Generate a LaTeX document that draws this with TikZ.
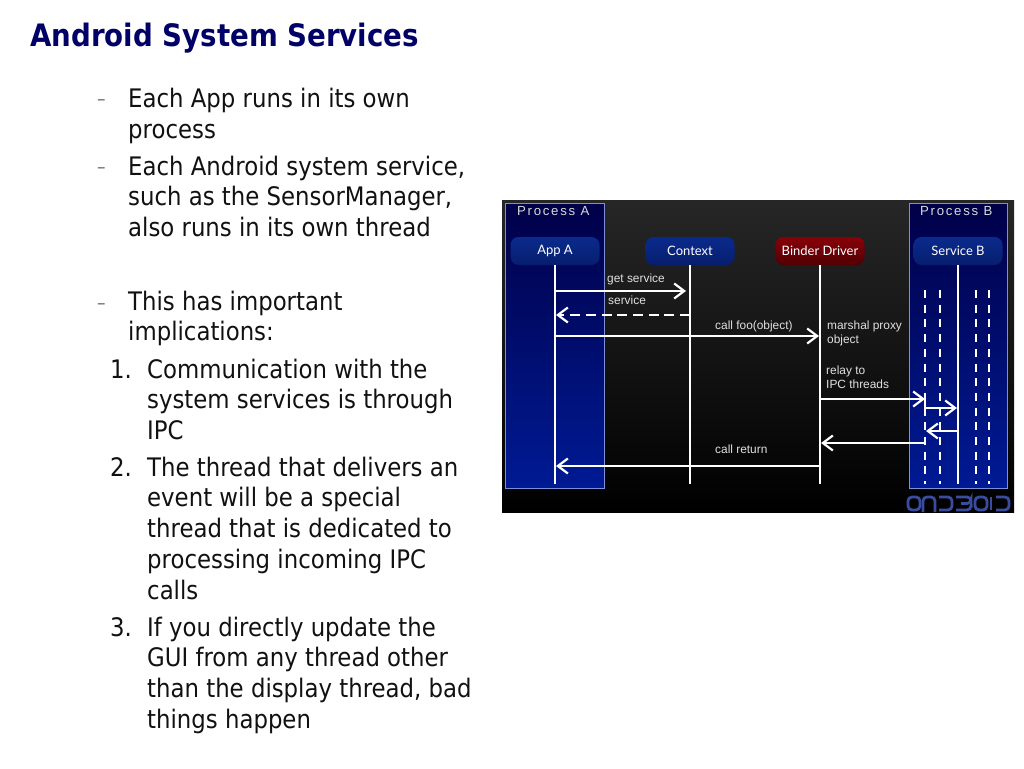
\documentclass[tikz,border=0pt]{standalone}
\usepackage{fontspec}
\usetikzlibrary{arrows.meta}
\setmainfont{DejaVu Sans}[FakeStretch=0.895]
\newfontfamily\labelfont{Liberation Sans}
\newfontfamily\procfont{Liberation Sans}[LetterSpace=13]
\newfontfamily\boxfont{Lato}
\definecolor{titleblue}{HTML}{000066}
\definecolor{bodytext}{HTML}{111111}
\definecolor{boxedge}{HTML}{7C90DA}
\definecolor{navytop}{HTML}{000048}
\definecolor{navybot}{HTML}{001A94}
\definecolor{actortop}{HTML}{0A2A8C}
\definecolor{actormid}{HTML}{0C36A4}
\definecolor{actorbot}{HTML}{071E6E}
\definecolor{redtop}{HTML}{8A0008}
\definecolor{redmid}{HTML}{AA0010}
\definecolor{redbot}{HTML}{500004}
\definecolor{logoblue}{HTML}{3A4C9E}
\newcommand{\firstline}{\rule{0pt}{20pt}}
\tikzset{
  x=1pt,y=-1pt,
  bodytextnode/.style={anchor=north west,inner sep=0pt,align=left,text=bodytext,font=\fontsize{25.5}{30.7}\selectfont},
  dashmark/.style={anchor=base west,inner sep=0pt,text=bodytext!60,font=\fontsize{19}{22}\selectfont},
  nummark/.style={anchor=base west,inner sep=0pt,text=bodytext,font=\fontsize{25.5}{30.7}\selectfont},
  actorblue/.style={rounded corners=8pt,minimum width=89pt,minimum height=28pt,inner sep=0pt,text=white,font=\boxfont\fontsize{13}{15}\selectfont,top color=actortop,middle color=actormid,bottom color=actorbot},
  actorred/.style={actorblue,top color=redtop,middle color=redmid,bottom color=redbot},
  proc/.style={draw=boxedge,line width=1pt,top color=navytop,bottom color=navybot},
  proclabel/.style={anchor=base west,inner sep=0pt,text=white!85!black,font=\procfont\fontsize{13.2}{15}\selectfont},
  msg/.style={anchor=base west,inner sep=0pt,align=left,text=white!88!black,font=\labelfont\fontsize{11.9}{13.4}\selectfont},
  lifeline/.style={white,line width=2pt},
  call/.style={white,line width=2pt,-{Straight Barb[length=10pt,width=15pt,line width=2.2pt]}},
  reply/.style={call,dash pattern=on 10pt off 5.7pt},
  thread/.style={white,line width=2.4pt,dash pattern=on 8pt off 6.7pt},
  logostroke/.style={logoblue,line width=2.8pt,rounded corners=4pt},
}
\begin{document}
\begin{tikzpicture}
\useasboundingbox (0,0) rectangle (1024,768);
\fill[white] (0,0) rectangle (1024,768);
\node[anchor=base west,inner sep=0pt,text=titleblue,font=\bfseries\fontsize{30.9}{36}\selectfont] (title) at (30,46) {Android System Services};

\node[dashmark] (d1) at (97,105) {–};
\node[bodytextnode] (t1) at (128,87.4) {\firstline Each App runs in its own\\process};
\node[dashmark] (d2) at (97,173) {–};
\node[bodytextnode] (t2) at (128,155) {\firstline Each Android system service,\\such as the SensorManager,\\also runs in its own thread};
\node[dashmark] (d3) at (97,309) {–};
\node[bodytextnode] (t3) at (128,290) {\firstline This has important\\implications:};
\node[nummark] (n1) at (110,378) {1.};
\node[bodytextnode] (t4) at (147,358) {\firstline Communication with the\\system services is through\\IPC};
\node[nummark] (n2) at (110,476) {2.};
\node[bodytextnode] (t5) at (147,456) {\firstline The thread that delivers an\\event will be a special\\thread that is dedicated to\\processing incoming IPC\\calls};
\node[nummark] (n3) at (110,636) {3.};
\node[bodytextnode] (t6) at (147,616) {\firstline If you directly update the\\GUI from any thread other\\than the display thread, bad\\things happen};

\shade[top color=black!85!white,bottom color=black] (502,200) rectangle (1014,512);
\shade[proc] (505,203) rectangle (604,488);
\shade[proc] (909,203) rectangle (1007,488);
\node[proclabel] (pa) at (517,215) {Process A};
\node[proclabel] (pb) at (920,215) {Process B};

% reflected logo at the foot of the panel
\begin{scope}
\clip (502,490) rectangle (1014,512);
\draw[logostroke] (920,497) -- (908,497) -- (908,510) -- (920,510) -- cycle;
\draw[logostroke] (923,512) -- (923,497) -- (935,497) -- (935,512);
\draw[logostroke] (939,497) -- (952,497) -- (952,510) -- (939,510);
\draw[logostroke] (956,497) -- (971,497) -- (971,503.5) -- (961,503.5);
\draw[logostroke] (971,503.5) -- (971,510) -- (956,510);
\draw[logostroke] (975,497) rectangle (987,510);
\draw[logostroke] (991,497) -- (991,510);
\draw[logostroke] (996,497) -- (1009,497) -- (1009,510) -- (996,510);
\end{scope}

\node[actorblue] (appA) at (555,251) {App A};
\node[actorblue] (ctx) at (690,251) {Context};
\node[actorred] (bind) at (820,251) {Binder Driver};
\node[actorblue] (svc) at (958,251) {Service B};

\coordinate (endA) at (555,484);
\coordinate (endC) at (690,484);
\coordinate (endB) at (820,484);
\coordinate (endS) at (958,484);
\draw[lifeline] (appA.south) -- (endA);
\draw[lifeline] (ctx.south) -- (endC);
\draw[lifeline] (bind.south) -- (endB);
\draw[lifeline] (svc.south) -- (endS);

\foreach \n/\x in {tA/925,tB/940,tC/976,tD/989}{
  \coordinate (\n top) at (\x,290);
  \coordinate (\n bot) at (\x,484);
  \draw[thread] (\n top) -- (\n bot);
}

\coordinate (a1) at (555,291); \coordinate (c1) at (686,291);
\coordinate (a2) at (556,315); \coordinate (c2) at (690,315);
\coordinate (a3) at (555,336); \coordinate (b3) at (819,336);
\coordinate (b4) at (820,399); \coordinate (r4) at (925,399);
\coordinate (r5a) at (925,399); \coordinate (s5) at (957,408);
\coordinate (s6) at (958,431); \coordinate (r6) at (926,431);
\coordinate (r7) at (925,443); \coordinate (b7) at (821,443);
\coordinate (b8) at (820,466); \coordinate (a8) at (556,466);
\draw[call] (a1) -- (c1);
\draw[reply] (c2) -- (a2);
\draw[call] (a3) -- (b3);
\draw[call] (b4) -- (r4);
\draw[call] (r5a) |- (s5);
\draw[call] (s6) -- (r6);
\draw[call] (r7) -- (b7);
\draw[call] (b8) -- (a8);

\node[msg] (m1) at (607,282) {get service};
\node[msg] (m2) at (608,304) {service};
\node[msg] (m3) at (715,329) {call foo(object)};
\node[msg,anchor=north west] (m4) at (827,321) {marshal proxy\\object};
\node[msg,anchor=north west] (m5) at (826,366) {relay to\\IPC threads};
\node[msg] (m6) at (715,453) {call return};
\end{tikzpicture}
\end{document}
